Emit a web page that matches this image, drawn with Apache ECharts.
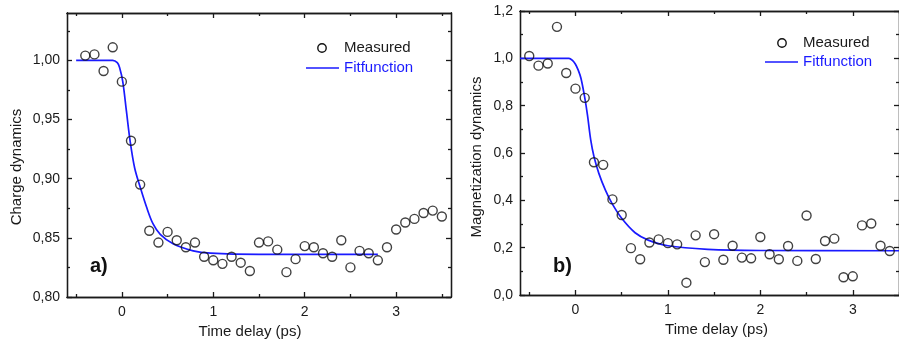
<!DOCTYPE html>
<html>
<head>
<meta charset="utf-8">
<script src="https://cdn.jsdelivr.net/npm/echarts@6/dist/echarts.min.js"></script>
<style>
html,body{margin:0;padding:0;background:#fff;}
#chart{width:899px;height:347px;}
</style>
</head>
<body>
<div id="chart"></div>
<script>
// ---- Panel a) Charge dynamics ----
const chargeX = [-0.4,-0.3,-0.2,-0.1,0.0,0.1,0.2,0.3,0.4,0.5,0.6,0.7,0.8,0.9,1.0,1.1,1.2,1.3,1.4,1.5,1.6,1.7,1.8,1.9,2.0,2.1,2.2,2.3,2.4,2.5,2.6,2.7,2.8,2.9,3.0,3.1,3.2,3.3,3.4,3.5];
const chargeY = [1.004,1.005,0.991,1.011,0.982,0.932,0.895,0.856,0.846,0.855,0.848,0.842,0.846,0.834,0.831,0.828,0.834,0.829,0.822,0.846,0.847,0.840,0.821,0.832,0.843,0.842,0.837,0.834,0.848,0.825,0.839,0.837,0.831,0.842,0.857,0.863,0.866,0.871,0.873,0.868];
const chargeFitX = [-0.5,-0.1,-0.05,-0.025,0.01,0.05,0.09,0.14,0.2,0.27,0.34,0.42,0.56,0.78,0.97,1.5,2.8];
const chargeFitY = [1.000,1.000,0.998,0.994,0.982,0.957,0.932,0.909,0.893,0.876,0.862,0.853,0.845,0.839,0.837,0.836,0.836];
const chargeYTicks = [0.80,0.85,0.90,0.95,1.00];
const chargeYMinor = [0.825,0.875,0.925,0.975,1.025];

// ---- Panel b) Magnetization dynamics ----
const magX = [-0.5,-0.4,-0.3,-0.2,-0.1,0.0,0.1,0.2,0.3,0.4,0.5,0.6,0.7,0.8,0.9,1.0,1.1,1.2,1.3,1.4,1.5,1.6,1.7,1.8,1.9,2.0,2.1,2.2,2.3,2.4,2.5,2.6,2.7,2.8,2.9,3.0,3.1,3.2,3.3,3.4];
const magY = [1.010,0.969,0.978,1.133,0.938,0.872,0.833,0.561,0.550,0.404,0.338,0.198,0.151,0.222,0.235,0.219,0.214,0.052,0.252,0.139,0.257,0.149,0.208,0.158,0.155,0.245,0.172,0.151,0.207,0.144,0.336,0.152,0.228,0.238,0.075,0.079,0.294,0.302,0.208,0.186];
const magFitX = [-0.6,-0.07,-0.03,0.0,0.03,0.06,0.1,0.13,0.165,0.2,0.253,0.324,0.395,0.5,0.645,0.787,1.0,1.43,2.0,3.5];
const magFitY = [1.0,1.0,0.99,0.975,0.95,0.915,0.835,0.76,0.655,0.585,0.514,0.443,0.387,0.324,0.263,0.232,0.208,0.193,0.188,0.187];
const magYTicks = [0.0,0.2,0.4,0.6,0.8,1.0,1.2];
const magYMinor = [0.1,0.3,0.5,0.7,0.9,1.1];

// ---- shared x ticks ----
const timeTicks = [0,1,2,3];
const timeMinor = [-0.5,0.5,1.5,2.5,3.5];

const axisColor = '#1a1a1a';
const textColor = '#1a1a1a';
const blue = '#1a1aff';
const fontFam = 'Liberation Sans, Arial, sans-serif';

function pair(a, b){ return a.map((v,i)=>[v,b[i]]); }

function xAxes(grid, min, max, name, pad){
  const base = {type:'value', gridIndex:grid, min:min, max:max, splitLine:{show:false},
    axisLine:{show:true, onZero:false, lineStyle:{color:axisColor, width:1.3}}};
  return [
    Object.assign({}, base, {position:'bottom', name:name, nameLocation:'middle', nameGap:26,
      nameTextStyle:{fontSize:15, color:textColor, fontFamily:fontFam, padding:pad},
      axisTick:{show:true, inside:true, length:5, customValues:timeTicks, lineStyle:{color:axisColor, width:1.3}},
      axisLabel:{show:true, customValues:timeTicks, fontSize:14, color:textColor, fontFamily:fontFam, margin:8, formatter:v=>String(v)}}),
    Object.assign({}, base, {position:'bottom',
      axisTick:{show:true, inside:true, length:3, customValues:timeMinor, lineStyle:{color:axisColor, width:1.3}},
      axisLabel:{show:false}}),
    Object.assign({}, base, {position:'top',
      axisTick:{show:true, inside:true, length:5, customValues:timeTicks, lineStyle:{color:axisColor, width:1.3}},
      axisLabel:{show:false}}),
    Object.assign({}, base, {position:'top',
      axisTick:{show:true, inside:true, length:3, customValues:timeMinor, lineStyle:{color:axisColor, width:1.3}},
      axisLabel:{show:false}})
  ];
}

function yAxes(grid, min, max, ticks, minor, dec, name, gap, pad){
  const base = {type:'value', gridIndex:grid, min:min, max:max, splitLine:{show:false},
    axisLine:{show:true, onZero:false, lineStyle:{color:axisColor, width:1.3}}};
  return [
    Object.assign({}, base, {position:'left', name:name, nameLocation:'middle', nameGap:gap,
      nameTextStyle:{fontSize:15, color:textColor, fontFamily:fontFam, padding:pad},
      axisTick:{show:true, inside:true, length:5, customValues:ticks, lineStyle:{color:axisColor, width:1.3}},
      axisLabel:{show:true, customValues:ticks, fontSize:14, color:textColor, fontFamily:fontFam, margin:7,
        formatter:v=>v.toFixed(dec).replace('.',',')}}),
    Object.assign({}, base, {position:'left',
      axisTick:{show:true, inside:true, length:3, customValues:minor, lineStyle:{color:axisColor, width:1.3}},
      axisLabel:{show:false}}),
    Object.assign({}, base, {position:'right',
      axisTick:{show:true, inside:true, length:5, customValues:ticks, lineStyle:{color:axisColor, width:1.3}},
      axisLabel:{show:false}}),
    Object.assign({}, base, {position:'right',
      axisTick:{show:true, inside:true, length:3, customValues:minor, lineStyle:{color:axisColor, width:1.3}},
      axisLabel:{show:false}})
  ];
}

const scatterStyle = {color:'rgba(0,0,0,0)', borderColor:'#111', borderWidth:1.4};

const option = {
  animation:false,
  backgroundColor:'#fff',
  grid:[
    {left:67, right:448, top:13, bottom:50},
    {left:520, right:-5, top:11, bottom:52}
  ],
  xAxis: [].concat(
    xAxes(0, -0.6, 3.6, 'Time delay (ps)', [0,18,0,0]),
    xAxes(1, -0.6, 3.5, 'Time delay (ps)', [0,0,0,14])
  ),
  yAxis: [].concat(
    yAxes(0, 0.80, 1.04, chargeYTicks, chargeYMinor, 2, 'Charge dynamics', 43, [0,24,0,0]),
    yAxes(1, 0.0, 1.2, magYTicks, magYMinor, 1, 'Magnetization dynamics', 36, [0,8,0,0])
  ),
  series:[
    {type:'line', name:'Fitfunction', xAxisIndex:0, yAxisIndex:0, data:pair(chargeFitX, chargeFitY),
      smooth:0.35, showSymbol:false, symbol:'none', lineStyle:{color:blue, width:1.7}, z:2},
    {type:'scatter', name:'Measured', xAxisIndex:0, yAxisIndex:0, data:pair(chargeX, chargeY),
      symbol:'circle', symbolSize:9, itemStyle:scatterStyle, z:3},
    {type:'line', name:'Fitfunction', xAxisIndex:4, yAxisIndex:4, data:pair(magFitX, magFitY),
      smooth:0.35, showSymbol:false, symbol:'none', lineStyle:{color:blue, width:1.7}, z:2},
    {type:'scatter', name:'Measured', xAxisIndex:4, yAxisIndex:4, data:pair(magX, magY),
      symbol:'circle', symbolSize:9, itemStyle:scatterStyle, z:3}
  ],
  graphic:[
    // legend a)
    {type:'circle', shape:{cx:322, cy:48, r:4.2}, style:{fill:'none', stroke:'#111', lineWidth:1.4}},
    {type:'text', left:344, top:40, style:{text:'Measured', fontSize:15, fill:textColor, fontFamily:fontFam}},
    {type:'line', shape:{x1:306, y1:68, x2:339, y2:68}, style:{stroke:blue, lineWidth:1.7}},
    {type:'text', left:344, top:60, style:{text:'Fitfunction', fontSize:15, fill:blue, fontFamily:fontFam}},
    {type:'text', left:90, top:256, style:{text:'a)', fontSize:20, fontWeight:'bold', fill:'#111', fontFamily:fontFam}},
    // legend b)
    {type:'circle', shape:{cx:782, cy:43, r:4.2}, style:{fill:'none', stroke:'#111', lineWidth:1.4}},
    {type:'text', left:803, top:35, style:{text:'Measured', fontSize:15, fill:textColor, fontFamily:fontFam}},
    {type:'line', shape:{x1:765, y1:62, x2:798, y2:62}, style:{stroke:blue, lineWidth:1.7}},
    {type:'text', left:803, top:54, style:{text:'Fitfunction', fontSize:15, fill:blue, fontFamily:fontFam}},
    {type:'text', left:553, top:256, style:{text:'b)', fontSize:20, fontWeight:'bold', fill:'#111', fontFamily:fontFam}}
  ]
};

const chart = echarts.init(document.getElementById('chart'), null, {renderer:'canvas'});
chart.setOption(option);
</script>
</body>
</html>
